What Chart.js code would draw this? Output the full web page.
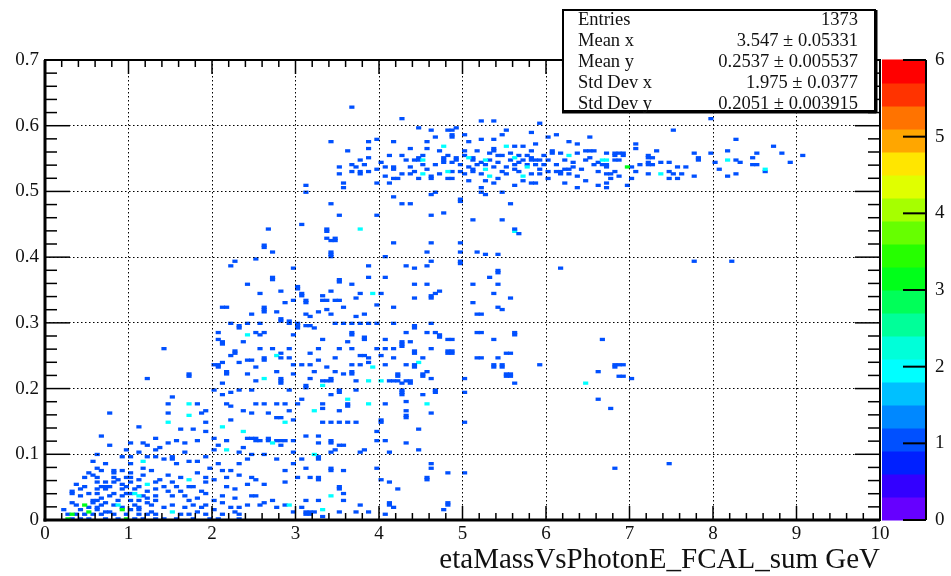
<!DOCTYPE html>
<html>
<head>
<meta charset="utf-8">
<title>etaMassVsPhotonE_FCAL_sum</title>
<script src="https://cdn.jsdelivr.net/npm/chart.js@4.4.1/dist/chart.umd.min.js"></script>
<style>
  html, body { margin: 0; padding: 0; background: #fff; }
  canvas { display: block; }
</style>
</head>
<body>
<canvas id="hist" width="951" height="576"></canvas>
<script>
// histogram binning: 200 x 200 bins
const E_MIN = 0, E_MAX = 10, E_BIN = 0.05;
const M_MIN = 0, M_MAX = 0.7, M_BIN = 0.0035;
const Z_MAX = 6, N_CONTOURS = 20;

// entries as [photon E (GeV), eta mass (GeV)]
// eta peak band
const peakBand = [
  [3.67,.627],[4.27,.610],[5.23,.606],[5.36,.606],[4.48,.597],[4.62,.594],[4.82,.594],[4.86,.594],[4.93,.597],[5.52,.594],[5.92,.602],
  [4.87,.581],[4.87,.5845],[3.98,.579],[3.88,.575],[3.44,.575],[5.37,.578],[6.02,.582],[6.10,.585],[6.50,.582],[6.39,.571],
  [4.38,.566],[4.57,.566],[5.09,.574],[5.61,.570],[5.72,.567],[5.86,.571],[5.81,.563],[3.62,.562],[3.88,.566],[4.52,.556],[4.27,.554],
  [4.40,.546],[4.45,.546],[4.82,.553],[3.78,.547],[3.88,.551],[4.02,.543],[4.76,.5425],[4.76,.546],[4.76,.5495],
  [4.92,.548],[4.92,.5515],[4.97,.540],[5.11,.548],[5.30,.558],[5.37,.561],[5.37,.5645],[5.49,.553],[5.67,.553],[5.77,.556],
  [5.81,.549],[5.81,.5525],[5.86,.547],[5.93,.546],[6.07,.557],[6.15,.558],[6.37,.557],[6.48,.560],[6.52,.560],[6.55,.560],
  [6.45,.548],[6.61,.543],[3.50,.538],[3.68,.540],[3.72,.538],[4.06,.538],[4.16,.534],[4.16,.5375],[4.36,.538],[4.52,.540],
  [4.67,.540],[5.06,.538],[5.14,.533],[5.18,.539],[5.38,.538],[5.50,.538],[5.60,.540],[5.69,.531],[5.85,.540],[5.97,.540],
  [6.10,.541],[6.21,.535],[6.26,.535],[6.31,.538],[6.57,.539],[6.73,.538],[3.54,.528],[3.76,.525],[3.76,.5285],[3.88,.530],
  [4.06,.523],[4.18,.521],[4.28,.525],[4.62,.524],[4.72,.525],[4.98,.529],[5.04,.525],[5.12,.531],[5.20,.526],[5.46,.530],
  [5.54,.526],[5.81,.528],[5.91,.526],[6.17,.525],[6.17,.5285],[6.29,.528],[6.37,.523],[6.75,.525],
  [3.58,.512],[3.59,.506],[3.98,.514],[4.12,.514],[4.22,.518],[4.46,.518],[4.60,.519],[4.80,.518],[5.26,.516],[5.36,.511],
  [5.24,.507],[5.62,.509],[5.81,.514],[5.89,.511],[6.21,.513],[6.35,.504],[6.61,.510],[6.73,.511],
  [5.22,.499],[5.26,.496],[5.47,.497],[4.66,.497],[4.62,.494],[4.99,.485],[4.99,.4885],[5.57,.481],[4.18,.492],[4.28,.480],
  [4.38,.481],[3.54,.463],[3.98,.463],[4.63,.463],[4.76,.468],[5.12,.458],[5.45,.458],[3.78,.444],[5.62,.439],[3.44,.482],
  [3.11,.508],[3.13,.499],[5.02,.556],[5.16,.561],[5.43,.545],[5.55,.549],[5.66,.543],[5.95,.556],[6.03,.547],[4.89,.531],
  [4.42,.531],[5.28,.541],[5.74,.546],[6.12,.531],
  [4.10,.556],[4.30,.548],[4.48,.552],[4.58,.535],[4.70,.560],[4.88,.545],[5.00,.563],[5.13,.552],[5.20,.545],[5.33,.549],
  [5.42,.556],[5.58,.558],[5.64,.532],[5.79,.542],[5.90,.535],[6.00,.530],[6.05,.561],[6.22,.548],[6.33,.545],[6.42,.532],
  [6.53,.550],[6.63,.530],[3.95,.535],[3.83,.540],[3.65,.531],[4.35,.528],[4.86,.519],[5.08,.517],[5.40,.521],[5.70,.517],
  [6.00,.519],[6.45,.515],[4.55,.575],[5.20,.578],[5.45,.585],[5.80,.590],[6.25,.575],[4.15,.575],[4.65,.583],[5.02,.586],
  [7.97,.610],[7.50,.593],[8.26,.578],[7.09,.571],[7.07,.565],[8.71,.567],[7.31,.562],[6.71,.558],[6.84,.553],[6.84,.557],
  [6.89,.557],[6.93,.553],[6.93,.557],[6.89,.548],[6.83,.546],[6.65,.540],[6.73,.540],[7.23,.552],[7.23,.5555],[7.28,.552],
  [7.21,.539],[7.21,.5425],[7.26,.539],[7.11,.540],[7.36,.543],[7.47,.543],[7.55,.538],[7.66,.538],[7.75,.557],[7.80,.546],
  [7.80,.5495],[7.99,.558],[8.01,.543],[8.07,.533],[8.15,.560],[8.25,.547],[8.32,.543],[8.45,.552],[8.50,.558],[8.45,.541],
  [8.50,.539],[8.60,.530],[8.60,.5335],[8.64,.533],[8.80,.557],[8.90,.543],[9.06,.554],[6.81,.529],[6.71,.525],[6.85,.523],
  [7.09,.529],[7.21,.526],[7.47,.531],[7.51,.525],[7.61,.526],[7.45,.521],[7.55,.519],[7.76,.523],[8.16,.523],[8.25,.526],
  [6.77,.520],[7.01,.518],[6.95,.509],[6.71,.504],[7.02,.537]
];

// rising edge between 0.2 and 0.45 GeV
const midRegion = [
  [2.66,.444],[3.06,.448],[3.37,.438],[3.37,.4415],[3.77,.444],[3.37,.430],[3.48,.430],[3.42,.425],[3.46,.425],[2.62,.413],
  [2.62,.4165],[2.72,.406],[3.42,.409],[3.42,.400],[3.42,.4035],[4.07,.402],[2.27,.393],[2.22,.385],[2.53,.396],[2.98,.382],
  [3.88,.385],[3.53,.363],[3.53,.3665],[3.66,.359],[3.88,.369],[4.07,.369],[2.72,.364],[2.72,.3675],[2.43,.357],[2.58,.346],
  [2.84,.349],[3.01,.353],[3.01,.3565],[3.06,.341],[3.06,.3445],[3.34,.340],[3.42,.349],[3.30,.333],[3.38,.333],[3.46,.333],
  [3.54,.335],[3.77,.346],[3.72,.336],[3.90,.344],[3.94,.344],[4.01,.344],[2.18,.325],[2.13,.322],[2.62,.322],[2.62,.316],
  [2.62,.319],[2.88,.329],[2.97,.334],[3.12,.329],[3.12,.3325],[3.37,.320],[3.42,.312],[3.83,.312],[3.98,.326],[3.12,.312],
  [3.18,.308],[2.23,.300],[2.32,.291],[2.32,.2945],[2.44,.300],[2.57,.299],[2.83,.302],[2.83,.3055],[2.92,.304],[2.94,.298],
  [3.02,.292],[3.02,.2955],[3.02,.299],[3.10,.297],[3.18,.297],[3.23,.291],[3.46,.300],[3.58,.300],[3.66,.300],[3.77,.300],
  [3.89,.300],[2.06,.284],[2.58,.280],[2.53,.286],[2.62,.284],[2.98,.283],[3.32,.273],[3.67,.282],[3.67,.2855],[3.83,.274],
  [3.83,.2775],[4.07,.276],[2.08,.274],[1.44,.260],[2.13,.266],[2.13,.2695],[2.27,.255],[2.27,.2585],[2.22,.251],[2.84,.255],
  [2.93,.261],[3.53,.260],[3.67,.260],[3.77,.249],[3.81,.249],[3.88,.246],[4.00,.251],[4.08,.260],[2.01,.236],[2.08,.231],
  [2.08,.2345],[2.13,.238],[2.32,.238],[2.43,.242],[2.47,.242],[2.53,.231],[2.62,.242],[2.62,.2455],[2.75,.249],[2.79,.249],
  [2.84,.246],[2.77,.227],[3.07,.236],[3.18,.236],[3.37,.231],[3.48,.227],[3.68,.236],[3.76,.236],[3.88,.239],[4.07,.236],
  [3.59,.222],[1.73,.220],[1.73,.2235],[2.18,.221],[2.18,.2245],[1.23,.214],[2.53,.212],[2.60,.214],[2.64,.214],[2.83,.211],
  [2.83,.2145],[3.18,.216],[3.34,.211],[3.38,.211],[3.42,.214],[3.68,.221],[3.68,.2245],[3.70,.211],
  [2.35,.270],[2.70,.262],[2.90,.245],[3.15,.255],[3.25,.262],[3.45,.245],[3.60,.270],[3.95,.262],[2.45,.312],[2.75,.318],
  [3.28,.318],[3.55,.322],[3.70,.310],[2.55,.262],[2.98,.236],[3.28,.242],[2.40,.222],[2.95,.222],[3.22,.226],[3.98,.300],
  [5.61,.438],[5.61,.4415],[5.67,.434],[4.18,.420],[4.63,.420],[4.58,.409],[4.97,.420],[4.97,.409],[5.16,.406],[5.27,.403],
  [5.41,.404],[4.98,.389],[4.98,.3925],[4.62,.393],[4.32,.385],[4.42,.382],[4.58,.385],[6.15,.382],[5.42,.375],[5.42,.3785],
  [5.32,.368],[5.11,.357],[5.41,.357],[4.42,.357],[4.58,.357],[4.72,.347],[4.67,.343],[4.62,.337],[4.62,.3405],[5.36,.346],
  [5.58,.336],[5.11,.332],[4.42,.336],[5.42,.325],[5.46,.319],[5.16,.312],[5.20,.312],[4.18,.325],[4.18,.298],[4.62,.300],
  [4.42,.291],[4.42,.2945],[5.16,.286],[5.20,.286],[4.32,.284],[4.58,.284],[4.67,.284],[4.72,.277],[4.72,.2805],[4.82,.276],
  [4.86,.276],[5.36,.276],[5.61,.280],[5.61,.2835],[4.27,.263],[4.27,.2665],[4.27,.270],[4.37,.270],[4.62,.262],[4.18,.260],
  [4.42,.255],[4.42,.2585],[4.82,.255],[4.86,.255],[4.82,.2585],[4.86,.2585],[5.52,.252],[5.56,.252],[5.16,.246],[5.20,.246],
  [5.42,.246],[4.18,.246],[4.53,.246],[4.45,.238],[4.49,.238],[4.32,.235],[4.42,.231],[4.42,.2345],[5.36,.231],[5.36,.2345],
  [5.46,.231],[5.46,.2345],[4.58,.224],[4.53,.220],[4.53,.2235],[4.23,.220],[4.23,.2235],[5.92,.235],[5.52,.220],[5.56,.220],
  [5.52,.2235],[5.56,.2235],[4.13,.213],[4.17,.213],[4.30,.213],[4.36,.213],[4.62,.216],[5.02,.216],[5.61,.208],[4.27,.208],
  [4.37,.208],[6.47,.208],[6.66,.273],[6.61,.225],[6.80,.231],[6.80,.2345],[6.86,.235],[6.90,.235],[6.86,.220],[6.90,.220],
  [7.01,.216],[6.45,.207],[7.76,.393],[8.20,.393]
];

// low mass region below 0.21 GeV
const lowRegion = [
  [2.84,.208],[3.14,.202],[3.14,.2055],[3.41,.211],[3.51,.194],[3.51,.1975],[3.62,.1735],[3.62,.177],[3.43,.189],[3.74,.198],
  [2.49,.198],[4.29,.190],[4.29,.1935],[4.29,.197],[4.66,.195],[4.66,.1985],[5.02,.193],[4.22,.211],[4.32,.180],[2.94,.198],
  [3.07,.182],[3.01,.177],[2.51,.175],[2.64,.175],[2.76,.175],[2.88,.175],[3.32,.178],[3.31,.170],[3.51,.165],[4.06,.178],
  [4.32,.165],[4.31,.157],[4.31,.1605],[4.64,.162],[5.02,.147],[4.54,.192],[2.69,.162],[2.78,.157],[2.83,.157],[2.94,.165],
  [2.98,.152],[3.44,.147],[3.52,.147],[3.62,.147],[3.31,.147],[3.72,.147],[4.04,.150],[4.04,.1535],[3.98,.134],[4.46,.138],
  [2.51,.122],[2.51,.1255],[2.58,.122],[2.68,.122],[2.68,.1255],[2.78,.122],[2.83,.122],[2.87,.122],[2.81,.114],[2.98,.122],
  [3.12,.129],[3.28,.128],[3.28,.117],[3.42,.117],[3.42,.1205],[3.52,.112],[3.57,.112],[3.98,.122],[4.06,.119],[4.32,.117],
  [2.62,.100],[2.98,.104],[3.06,.094],[3.26,.094],[3.26,.0975],[3.40,.102],[3.48,.106],[3.77,.102],[3.84,.106],[4.12,.102],
  [4.46,.106],[2.78,.091],[2.98,.086],[3.12,.077],[2.88,.076],[3.42,.074],[3.42,.0775],[3.58,.074],[3.98,.077],[4.62,.087],
  [4.62,.080],[4.84,.072],[5.02,.072],[2.51,.061],[2.62,.053],[2.86,.058],[3.02,.063],[3.18,.066],[3.28,.062],[3.28,.0655],
  [3.54,.048],[3.54,.0515],[3.56,.041],[4.14,.058],[4.22,.046],[4.58,.062],[4.58,.0655],[4.01,.062],[2.52,.038],[2.72,.031],
  [2.58,.023],[2.64,.025],[2.76,.018],[2.86,.021],[3.06,.020],[3.12,.031],[3.26,.031],[3.56,.031],[3.76,.024],[4.10,.024],
  [4.10,.0275],[4.18,.019],[4.82,.021],[4.82,.0245],[2.98,.013],[3.11,.013],[3.16,.013],[3.22,.013],[3.11,.0095],[3.16,.0095],
  [3.32,.005],[3.54,.013],[3.74,.013],[3.88,.013],[4.08,.008],[4.78,.014],
  [2.13,.208],[2.03,.199],[2.13,.192],[2.24,.193],[2.33,.199],[1.54,.187],[1.48,.178],[1.70,.175],[1.74,.175],[1.82,.178],
  [1.90,.167],[0.79,.164],[1.48,.162],[2.18,.178],[2.24,.172],[2.48,.162],[2.38,.165],[1.70,.158],[1.74,.158],[1.86,.161],
  [1.92,.150],[1.14,.140],[1.62,.138],[1.78,.137],[1.92,.134],[2.22,.153],[0.68,.127],[1.02,.118],[1.16,.116],[1.32,.123],
  [1.48,.117],[1.58,.119],[1.68,.118],[1.82,.122],[2.01,.123],[2.06,.114],[2.18,.119],[2.42,.124],[2.46,.124],[0.79,.112],
  [1.24,.112],[1.36,.109],[2.02,.106],[2.34,.102],[2.47,.100],[0.58,.090],[0.64,.079],[0.72,.084],[0.81,.076],[0.90,.097],
  [1.01,.095],[1.02,.087],[1.22,.097],[1.32,.095],[1.42,.091],[1.54,.094],[1.54,.0975],[1.58,.086],[1.70,.090],[1.82,.089],
  [1.90,.097],[2.06,.084],[2.10,.076],[2.20,.076],[2.32,.086],[2.42,.091],[0.55,.068],[0.68,.074],[0.81,.066],[0.90,.074],
  [1.02,.063],[1.18,.080],[1.26,.075],[1.38,.062],[1.46,.068],[1.60,.066],[1.82,.071],[1.92,.063],[2.02,.061],[2.18,.063],
  [0.47,.063],[0.35,.053],[0.47,.050],[0.60,.047],[0.68,.051],[0.72,.051],[0.76,.050],[0.92,.053],[1.04,.056],[1.14,.051],
  [1.30,.048],[1.42,.051],[1.58,.050],[1.70,.052],[1.78,.050],[1.94,.056],[2.26,.046],[0.33,.043],[0.43,.038],[0.55,.031],
  [0.68,.033],[0.76,.038],[0.92,.036],[1.02,.041],[1.20,.033],[1.34,.030],[1.54,.038],[1.66,.036],[1.82,.033],[1.94,.041],
  [2.12,.036],[2.28,.033],[2.46,.038],[0.30,.026],[0.38,.024],[0.60,.020],[0.68,.024],[0.80,.023],[0.90,.020],[1.06,.023],
  [1.14,.018],[1.28,.021],[1.42,.018],[1.54,.021],[1.66,.018],[1.78,.021],[1.86,.018],[1.94,.023],[2.10,.025],[2.22,.020],
  [2.34,.018],[2.44,.024],[0.25,.010],[0.38,.010],[0.47,.007],[0.55,.010],[0.68,.008],[0.74,.011],[0.82,.008],[0.98,.010],
  [1.10,.008],[1.22,.010],[1.34,.008],[1.62,.010],[1.70,.008],[1.82,.013],[1.90,.010],[2.02,.015],[2.14,.010],[2.26,.013],
  [2.34,.010],[0.34,.002],[0.44,.002],[0.54,.002],[0.72,.002],[0.86,.002],[1.06,.002],[1.18,.002],[1.32,.002],[1.44,.002],
  [1.58,.002],[1.76,.002],[1.96,.002],[2.08,.002],[2.30,.002],[0.24,.014],[0.60,.014],[0.78,.012],[1.00,.014],[1.14,.015],
  [1.28,.013],[0.56,.025],[0.70,.027],[1.10,.028],[1.20,.025],[0.60,.057],[0.70,.058],[0.84,.057],[0.98,.052],[1.32,.057],
  [0.30,.039],[0.52,.039],[0.64,.041],[0.84,.039],[0.96,.041],[1.18,.037],[1.32,.038],[0.50,.070],[0.82,.071],[0.96,.066],
  [1.04,.071],[1.16,.069],[0.72,.046],[0.92,.047],[1.06,.048],
  [0.40,.017],[0.52,.018],[0.64,.030],[0.86,.031],[1.00,.030],[1.24,.043],[1.48,.044],[1.62,.042],[1.74,.028],[2.00,.030],
  [2.18,.050],[2.40,.054],[0.40,.047],[0.88,.062],[1.10,.060],[1.50,.057],[1.86,.044],[2.30,.068],[2.46,.065],[0.64,.100],
  [0.98,.108],[1.12,.102],[1.30,.106],[1.66,.104],[1.98,.080],[2.38,.110],[0.60,.063],
  [6.62,.182],[6.76,.171],[7.45,.087],[6.80,.077]
];

// cells holding more than one entry: [photon E, eta mass, entries]
const multiCells = [
  [4.75,.567,2],[5.51,.567,2],[4.53,.547,2],[5.05,.551,2],[5.26,.548,2],[5.61,.5515,2],[6.27,.553,2],[6.71,.547,2],
  [5.26,.533,2],[5.77,.536,2],[4.53,.526,2],[4.82,.529,2],[5.32,.523,2],[5.73,.524,2],[6.69,.547,2],[6.96,.538,3],
  [7.36,.526,2],[8.15,.547,2],[2.42,.280,2],[3.93,.231,2],[3.88,.213,2],[4.02,.213,2],
  [3.32,.205,2],[3.62,.183,2],[3.88,.175,2],[4.56,.178,2],[2.88,.147,2],[3.24,.165,2],[2.72,.117,2],[3.24,.099,2],
  [2.94,.024,2],[3.42,.035,2],[3.30,.014,2],[1.46,.147,2],[2.14,.143,2],[2.37,.134,2],[2.18,.106,2],[1.16,.089,2],
  [1.70,.062,2],[1.10,.037,2],[0.48,.024,3],[0.31,.008,3],[0.92,.016,3],[1.54,.013,2],[0.27,.003,3],[0.96,.003,3],
  [0.50,.011,3],[0.86,.024,2],[1.08,.041,2],[1.20,.055,2]
];

const xTicks = [0, 1, 2, 3, 4, 5, 6, 7, 8, 9, 10];
const yTicks = [0, 0.1, 0.2, 0.3, 0.4, 0.5, 0.6, 0.7];
const zTicks = [0, 1, 2, 3, 4, 5, 6];

const statLabels = ['Entries', 'Mean x', 'Mean y', 'Std Dev x', 'Std Dev y'];
const statValues = ['1373', '3.547 \u00b1 0.05331', '0.2537 \u00b1 0.005537', '1.975 \u00b1 0.0377', '0.2051 \u00b1 0.003915'];

// rainbow contour palette, lowest level first
const palette = ['#6600ff', '#3300ff', '#0020ff', '#0050ff', '#0088ff', '#00c0ff', '#00ffff', '#00ffd9', '#00ff99', '#00ff59',
                 '#00ff1a', '#26ff00', '#66ff00', '#a6ff00', '#e0ff00', '#ffe600', '#ffa600', '#ff7300', '#ff3300', '#ff0000'];

const SERIF = "'Liberation Serif', 'Times New Roman', serif";
const INK = '#111';

// fill the histogram
const cells = new Map();
function fill(e, m, w) {
    const ix = Math.floor((e - E_MIN) / E_BIN + 1e-9);
    const iy = Math.floor((m - M_MIN) / M_BIN + 1e-9);
    const key = ix + ':' + iy;
    cells.set(key, (cells.get(key) || 0) + w);
}
[peakBand, midRegion, lowRegion].forEach(list => list.forEach(p => fill(p[0], p[1], 1)));
multiCells.forEach(p => fill(p[0], p[1], p[2]));

const binData = [];
cells.forEach((n, key) => {
    const [ix, iy] = key.split(':').map(Number);
    binData.push({ x: E_MIN + (ix + 0.5) * E_BIN, y: [M_MIN + iy * M_BIN, M_MIN + (iy + 1) * M_BIN], n: n });
});

function colorFor(n) {
    const k = Math.min(N_CONTOURS - 1, Math.floor(n / Z_MAX * N_CONTOURS + 1e-9));
    return palette[k];
}

function line(ctx, x1, y1, x2, y2) {
    ctx.beginPath();
    ctx.moveTo(x1, y1);
    ctx.lineTo(x2, y2);
    ctx.stroke();
}

// frame, axis ticks, palette axis and statistics box
const rootDecor = {
    id: 'rootDecor',
    afterDraw(chart) {
        const { ctx, chartArea: a, scales: { x, y } } = chart;
        ctx.save();
        ctx.strokeStyle = '#000';

        // tick marks on all four sides
        ctx.lineWidth = 1.5;
        for (let i = 0; i <= 50; i++) {
            const px = x.getPixelForValue(i * 0.2);
            const len = i % 5 === 0 ? 14 : 7;
            line(ctx, px, a.bottom, px, a.bottom - len);
            line(ctx, px, a.top, px, a.top + len);
        }
        for (let i = 0; i <= 35; i++) {
            const py = y.getPixelForValue(i * 0.02);
            const len = i % 5 === 0 ? 25 : 12;
            line(ctx, a.left, py, a.left + len, py);
            line(ctx, a.right, py, a.right - len, py);
        }

        // frame
        ctx.lineWidth = 2;
        ctx.strokeRect(a.left, a.top, a.right - a.left, a.bottom - a.top);
        ctx.lineWidth = 3;
        line(ctx, a.left, a.top, a.left, a.bottom + 1.5);
        line(ctx, a.left - 1.5, a.bottom, a.right, a.bottom);

        // palette
        const zx0 = a.right + 2, zx1 = 926;
        const bandH = (a.bottom - a.top) / N_CONTOURS;
        palette.forEach((c, k) => {
            ctx.fillStyle = c;
            const yb = a.bottom - k * bandH;
            ctx.fillRect(zx0, yb - bandH - 0.5, zx1 - zx0, bandH + 1);
        });
        ctx.lineWidth = 2;
        line(ctx, zx1, a.top, zx1, a.bottom);
        ctx.fillStyle = INK;
        ctx.font = '19px ' + SERIF;
        ctx.textAlign = 'left';
        ctx.textBaseline = 'middle';
        zTicks.forEach(v => {
            const py = a.bottom - (v / Z_MAX) * (a.bottom - a.top);
            line(ctx, zx1, py, zx1 - 23, py);
            ctx.fillText(String(v), 935, py);
        });

        // statistics box
        const bx = 563, by = 10, bw = 312, bh = 101;
        ctx.fillStyle = '#fff';
        ctx.fillRect(bx, by, bw, bh);
        ctx.lineWidth = 2;
        ctx.strokeRect(bx, by, bw, bh);
        ctx.lineWidth = 3;
        line(ctx, bx - 1, by + bh + 1, bx + bw + 1.5, by + bh + 1);
        line(ctx, bx + bw + 1, by, bx + bw + 1, by + bh + 2);
        ctx.fillStyle = INK;
        ctx.font = '18.5px ' + SERIF;
        statLabels.forEach((label, i) => {
            const ty = by + 10.5 + i * 21;
            ctx.textAlign = 'left';
            ctx.fillText(label, 578, ty);
            ctx.textAlign = 'right';
            ctx.fillText(statValues[i], 858, ty);
        });
        ctx.restore();
    }
};

const chart = new Chart(document.getElementById('hist'), {
    type: 'bar',
    data: {
        datasets: [{
            label: 'etaMassVsPhotonE_FCAL_sum',
            data: binData,
            backgroundColor: ctx => colorFor(ctx.raw ? ctx.raw.n : 1),
            borderWidth: 0,
            borderSkipped: false,
            inflateAmount: 0.5,
            grouped: false,
            categoryPercentage: 1,
            barPercentage: 1
        }]
    },
    options: {
        responsive: false,
        animation: false,
        devicePixelRatio: 1,
        layout: { padding: { top: 60, right: 71, left: 0, bottom: 0 } },
        plugins: {
            legend: { display: false },
            tooltip: { enabled: false }
        },
        scales: {
            x: {
                type: 'linear',
                min: E_MIN,
                max: E_MAX,
                offset: false,
                afterFit: s => { s.height = 56; },
                afterBuildTicks: s => { s.ticks = xTicks.map(v => ({ value: v })); },
                grid: { color: '#000', lineWidth: 1, drawTicks: false, offset: false, z: 1 },
                border: { display: false, dash: [1.5, 2.5] },
                ticks: {
                    font: { family: SERIF, size: 19 },
                    color: INK,
                    padding: 3,
                    maxRotation: 0,
                    autoSkip: false,
                    callback: v => String(v)
                },
                title: {
                    display: true,
                    text: 'etaMassVsPhotonE_FCAL_sum GeV',
                    align: 'end',
                    color: INK,
                    font: { family: SERIF, size: 29, lineHeight: 1.05 },
                    padding: 0
                }
            },
            y: {
                type: 'linear',
                min: M_MIN,
                max: M_MAX,
                afterFit: s => { s.width = 45; },
                afterBuildTicks: s => { s.ticks = yTicks.map(v => ({ value: v })); },
                grid: { color: '#000', lineWidth: 1, drawTicks: false, z: 1 },
                border: { display: false, dash: [1.5, 2.5] },
                ticks: {
                    font: { family: SERIF, size: 19 },
                    color: INK,
                    padding: 6,
                    autoSkip: false,
                    callback: v => String(v)
                }
            }
        }
    },
    plugins: [rootDecor]
});
</script>
</body>
</html>
